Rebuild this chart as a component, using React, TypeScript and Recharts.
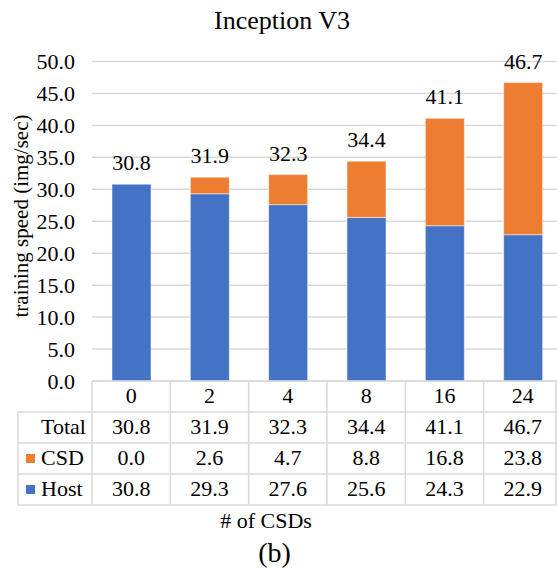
import React from 'react';
import { BarChart, Bar, XAxis, YAxis, CartesianGrid, LabelList } from 'recharts';

const categories = ['0', '2', '4', '8', '16', '24'];
const hostValues = [30.8, 29.3, 27.6, 25.6, 24.3, 22.9];
const csdValues = [0.0, 2.6, 4.7, 8.8, 16.8, 23.8];
const totalValues = [30.8, 31.9, 32.3, 34.4, 41.1, 46.7];
const yTicks = [0, 5, 10, 15, 20, 25, 30, 35, 40, 45, 50];
const rowLabels = ['Total', 'CSD', 'Host'];

const title = 'Inception V3';
const yLabel = 'training speed (img/sec)';
const xLabel = '# of CSDs';
const caption = '(b)';

const HOST_COLOR = '#4472C4';
const CSD_COLOR = '#ED7D31';
const LINE_COLOR = '#d9d9d9';
const FONT = '"Liberation Serif", "Times New Roman", serif';

const VIEW_W = 557;
const VIEW_H = 569;
const CHART_W = 562;
const CHART_H = 569;
const Y_AXIS_W = 92;
const MARGIN = { top: 61.5, right: 0, bottom: 0, left: 0 };
const X_AXIS_H = 188;
const PLOT_W = CHART_W - Y_AXIS_W - MARGIN.left - MARGIN.right;
const COL_W = PLOT_W / categories.length;
const ROW_H = 31;
const HEADER_W = 74;
const FS = 22;

const textStyle = { fontFamily: FONT, fontSize: FS };

const data = categories.map((c, i) => ({
  name: c,
  host: hostValues[i],
  csd: csdValues[i],
  total: totalValues[i],
}));

const fmt = (v: number) => v.toFixed(1);

const TableTick = (props: any) => {
  const { x, y, payload } = props;
  const i: number = props.index ?? payload.index ?? categories.indexOf(String(payload.value));
  const left = x - COL_W / 2;
  const right = x + COL_W / 2;
  const cells = [categories[i], fmt(totalValues[i]), fmt(csdValues[i]), fmt(hostValues[i])];
  const lineProps = { stroke: LINE_COLOR, strokeWidth: 1.5 };
  const tableBottom = y + 4 * ROW_H;
  const rightEdge = Math.min(right, VIEW_W - 1);
  return (
    <g>
      {cells.map((t, r) => (
        <text key={'t' + r} x={x} y={y + r * ROW_H + 22} textAnchor="middle" style={textStyle} fill="#000">
          {t}
        </text>
      ))}
      <line x1={left} x2={left} y1={y} y2={tableBottom} {...lineProps} />
      {i === categories.length - 1 && <line x1={rightEdge} x2={rightEdge} y1={y} y2={tableBottom} {...lineProps} />}
      {[1, 2, 3, 4].map((r) => (
        <line key={'h' + r} x1={left} x2={right} y1={y + r * ROW_H} y2={y + r * ROW_H} {...lineProps} />
      ))}
      {i === 0 && (
        <g>
          <line x1={left - HEADER_W} x2={left - HEADER_W} y1={y + ROW_H} y2={tableBottom} {...lineProps} />
          {[1, 2, 3, 4].map((r) => (
            <line key={'hh' + r} x1={left - HEADER_W} x2={left} y1={y + r * ROW_H} y2={y + r * ROW_H} {...lineProps} />
          ))}
          {rowLabels.map((lab, r) => (
            <g key={'rl' + r}>
              {r > 0 && (
                <rect
                  x={left - HEADER_W + 8}
                  y={y + (r + 1) * ROW_H + ROW_H / 2 - 4.5}
                  width={9}
                  height={9}
                  fill={lab === 'CSD' ? CSD_COLOR : HOST_COLOR}
                />
              )}
              <text x={left - HEADER_W + 23} y={y + (r + 1) * ROW_H + 22} style={textStyle} fill="#000">
                {lab}
              </text>
            </g>
          ))}
        </g>
      )}
    </g>
  );
};

// Total label drawn above the stack, positioned from the host bar's own scaled geometry
const TotalLabel = (props: any) => {
  const { x, y, width, height, index } = props;
  const i = Number(index);
  const pxPerUnit = Number(height) / hostValues[i];
  const top = Number(y) - csdValues[i] * pxPerUnit;
  return (
    <text x={Number(x) + Number(width) / 2} y={top - 14} textAnchor="middle" style={textStyle} fill="#000">
      {fmt(totalValues[i])}
    </text>
  );
};

export default function App() {
  return (
    <div
      style={{
        position: 'absolute',
        left: 0,
        top: 0,
        width: VIEW_W,
        height: VIEW_H,
        overflow: 'hidden',
        background: '#fff',
        fontFamily: FONT,
      }}
    >
      <BarChart width={CHART_W} height={CHART_H} data={data} margin={MARGIN} style={{ fontFamily: FONT }}>
        <CartesianGrid vertical={false} stroke={LINE_COLOR} strokeWidth={1.5} />
        <XAxis
          dataKey="name"
          height={X_AXIS_H}
          tick={<TableTick />}
          tickLine={false}
          tickSize={0}
          tickMargin={0}
          axisLine={{ stroke: LINE_COLOR, strokeWidth: 1.5 }}
          interval={0}
        />
        <YAxis
          width={Y_AXIS_W}
          domain={[0, 50]}
          ticks={yTicks}
          tickFormatter={fmt}
          axisLine={false}
          tickLine={false}
          tickSize={0}
          tickMargin={17}
          tick={{ fontSize: FS, fontFamily: FONT, fill: '#000', style: { fontFamily: FONT } }}
          interval={0}
        />
        <Bar dataKey="host" stackId="s" fill={HOST_COLOR} barSize={39} isAnimationActive={false} stroke="#ffffff" strokeWidth={0.5}>
          <LabelList dataKey="total" content={<TotalLabel />} />
        </Bar>
        <Bar dataKey="csd" stackId="s" fill={CSD_COLOR} barSize={39} isAnimationActive={false} stroke="#ffffff" strokeWidth={0.5} />
      </BarChart>
      <svg width={VIEW_W} height={VIEW_H} style={{ position: 'absolute', left: 0, top: 0, pointerEvents: 'none' }}>
        <text x={282} y={29} textAnchor="middle" style={{ fontFamily: FONT, fontSize: 26 }} fill="#000">
          {title}
        </text>
        <text x={28} y={216} textAnchor="middle" style={{ fontFamily: FONT, fontSize: 21 }} fill="#000" transform="rotate(-90 28 216)">
          {yLabel}
        </text>
        <text x={266} y={528} textAnchor="middle" style={textStyle} fill="#000">
          {xLabel}
        </text>
        <text x={274.5} y={562} textAnchor="middle" style={{ fontFamily: FONT, fontSize: 28 }} fill="#000">
          {caption}
        </text>
      </svg>
    </div>
  );
}
